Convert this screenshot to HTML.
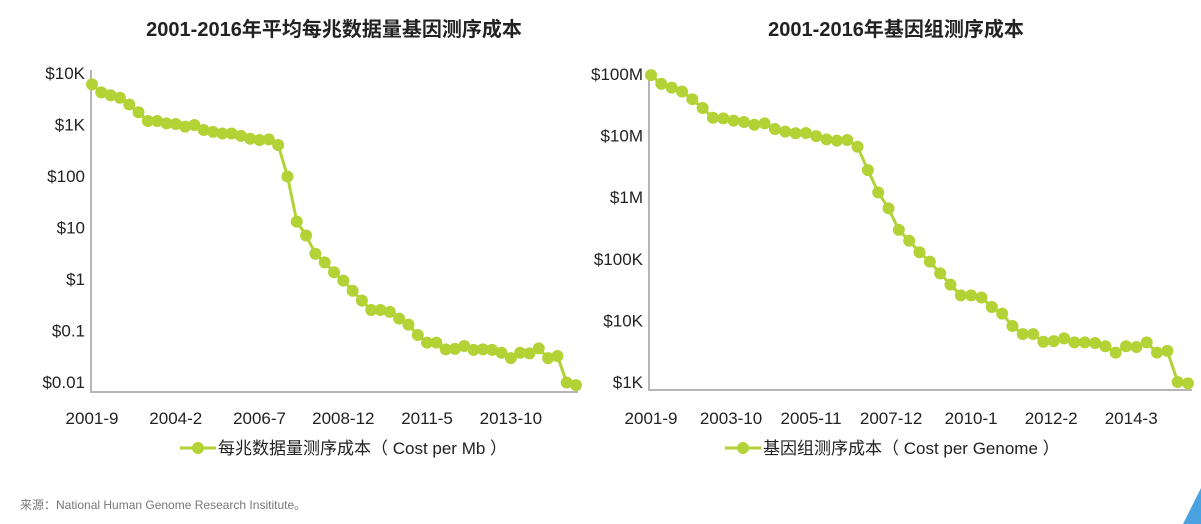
<!DOCTYPE html>
<html><head><meta charset="utf-8">
<style>
html,body{margin:0;padding:0;background:#fff;}
body{width:1201px;height:524px;overflow:hidden;position:relative;font-family:"Liberation Sans","Noto Sans CJK SC",sans-serif;}
svg{position:absolute;left:0;top:0;}
</style></head>
<body>
<svg id="c" width="1201" height="524" viewBox="0 0 1201 524">
  <text x="334" y="36" text-anchor="middle" font-size="20" font-weight="bold" fill="#222" font-family="Liberation Sans, Noto Sans CJK SC, sans-serif">2001-2016年平均每兆数据量基因测序成本</text>
  <text x="896" y="36" text-anchor="middle" font-size="20" font-weight="bold" fill="#222" font-family="Liberation Sans, Noto Sans CJK SC, sans-serif">2001-2016年基因组测序成本</text>
  <text x="20" y="509" font-size="12" fill="#777" font-family="Liberation Sans, Noto Sans CJK SC, sans-serif">来源：National Human Genome Research Insititute。</text>
  <polygon points="1201,488 1201,524 1183,524" fill="#4aa3e0"/>
</svg>
<script>
const leftTicks=[10000,1000,100,10,1,0.1,0.01];
const leftTickLabels=["$10K","$1K","$100","$10","$1","$0.1","$0.01"];
const leftValues=[6000,4200,3700,3300,2450,1730,1170,1170,1050,1020,910,980,780,720,670,670,600,530,500,515,400,98,13,7,3.1,2.1,1.35,0.93,0.59,0.38,0.25,0.25,0.23,0.17,0.13,0.082,0.058,0.058,0.043,0.044,0.05,0.042,0.043,0.042,0.037,0.029,0.037,0.036,0.045,0.029,0.032,0.0098,0.0087];
const leftCatLabels=["2001-9","2004-2","2006-7","2008-12","2011-5","2013-10"];
const leftCatIdx=[0,9,18,27,36,45];
const rightTicks=[1e8,1e7,1e6,1e5,1e4,1e3];
const rightTickLabels=["$100M","$10M","$1M","$100K","$10K","$1K"];
const rightValues=[96e6,69e6,60e6,52e6,39e6,28e6,19.5e6,19e6,17.5e6,16.6e6,15e6,15.8e6,12.8e6,11.6e6,10.9e6,11e6,9.8e6,8.7e6,8.3e6,8.5e6,6.6e6,2.75e6,1.2e6,660e3,295e3,196e3,128e3,90e3,58e3,38e3,25.5e3,25.5e3,23.5e3,16.5e3,12.9e3,8.1e3,6.0e3,6.0e3,4.5e3,4.6e3,5.1e3,4.4e3,4.4e3,4.3e3,3.8e3,3.0e3,3.8e3,3.7e3,4.4e3,3.0e3,3.2e3,1.0e3,0.95e3];
const rightCatLabels=["2001-9","2003-10","2005-11","2007-12","2010-1","2012-2","2014-3"];
const rightCatIdx=[0,7.75,15.5,23.25,31,38.75,46.5];

const svg=document.getElementById('c');
const NS='http://www.w3.org/2000/svg';
const GREEN='#b2d235';
function mk(tag,attrs){const e=document.createElementNS(NS,tag);for(const k in attrs)e.setAttribute(k,attrs[k]);svg.appendChild(e);return e;}

function drawChart(cfg,ticks,tickLabels,values,catLabels,catIdx,legendText,prefix){
  const n=values.length;
  const xS=i=>cfg.x0+(cfg.x1-cfg.x0)*i/(n-1);
  const lt=Math.log10(ticks[0]),lb=Math.log10(ticks[ticks.length-1]);
  const yS=v=>cfg.yTop+(lt-Math.log10(v))/(lt-lb)*(cfg.yBot-cfg.yTop);
  const ax=mk('polyline',{points:`${cfg.ax},${cfg.axTop} ${cfg.ax},${cfg.axBot} ${cfg.axRight},${cfg.axBot}`,fill:'none',stroke:'#b5b5b5','stroke-width':2});
  
  
  ticks.forEach((t,i)=>{
    const tx=mk('text',{x:cfg.ax-6,y:yS(t)+6,'text-anchor':'end','font-size':17,fill:'#222'});
    tx.textContent=tickLabels[i];
    
    
  });
  catLabels.forEach((c,i)=>{
    const tx=mk('text',{x:xS(catIdx[i]),y:cfg.catY,'text-anchor':'middle','font-size':17,fill:'#222'});
    tx.textContent=c;
    
    
  });
  const pts=values.map((v,i)=>xS(i).toFixed(1)+','+yS(v).toFixed(1)).join(' ');
  const ln=mk('polyline',{points:pts,fill:'none',stroke:GREEN,'stroke-width':3});
  
  
  values.forEach((v,i)=>{
    const c=mk('circle',{cx:xS(i),cy:yS(v),r:6,fill:GREEN});
    
    
  });
  const ll=mk('line',{x1:cfg.legX,y1:cfg.legY,x2:cfg.legX+36,y2:cfg.legY,stroke:GREEN,'stroke-width':3});
  
  
  const lc=mk('circle',{cx:cfg.legX+18,cy:cfg.legY,r:6,fill:GREEN});
  
  
  const lt2=mk('text',{x:cfg.legX+38,y:cfg.legY+6,'font-size':17,fill:'#222'});
  lt2.textContent=legendText;
  
  
}
drawChart({x0:92,x1:576,yTop:73,yBot:382,ax:91,axTop:70,axBot:392,axRight:578,catY:424,legX:180,legY:448},
  leftTicks,leftTickLabels,leftValues,leftCatLabels,leftCatIdx,'每兆数据量测序成本（ Cost per Mb ）','left');
drawChart({x0:651,x1:1188,yTop:74,yBot:382,ax:649,axTop:70,axBot:390,axRight:1192,catY:424,legX:725,legY:448},
  rightTicks,rightTickLabels,rightValues,rightCatLabels,rightCatIdx,'基因组测序成本（ Cost per Genome ）','right');
</script>
</body></html>
